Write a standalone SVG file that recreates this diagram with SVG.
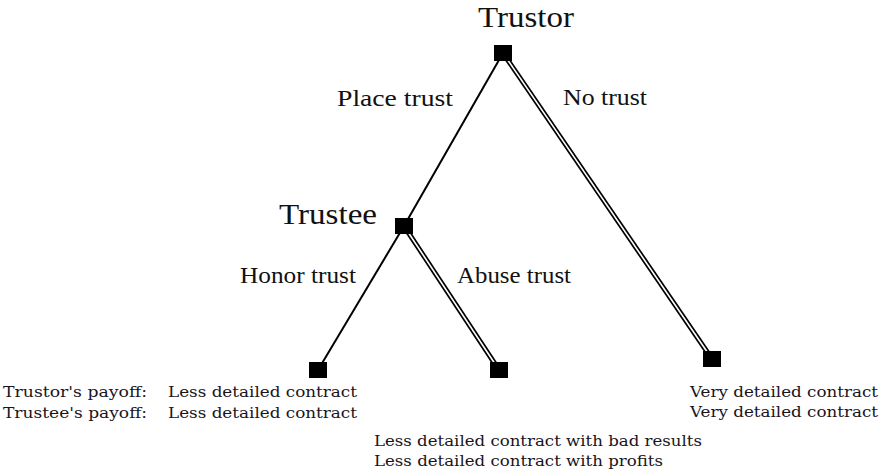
<svg xmlns="http://www.w3.org/2000/svg" width="881" height="472" viewBox="0 0 881 472">
<style>
.bg{fill:#fff}
.edge{stroke:#000;stroke-width:2;fill:none}
.dbl-out{stroke:#000;stroke-width:5;fill:none}
.dbl-in{stroke:#fff;stroke-width:1.6;fill:none}
.node{fill:#000}
.big{font-family:"Liberation Serif","Times New Roman",serif;font-size:30px;fill:#111}
.lbl{font-family:"Liberation Serif","Times New Roman",serif;font-size:23px;fill:#111}
.pay{font-family:"DejaVu Serif","Liberation Serif",serif;font-size:14.5px;fill:#1a1420}
</style>
<rect class="bg" x="0" y="0" width="881" height="472"/>
<g id="connectors">
  <line class="edge" x1="503" y1="53" x2="404" y2="226"/>
  <line class="edge" x1="404" y1="226" x2="318" y2="370"/>
  <line class="dbl-out" x1="503" y1="53" x2="712" y2="359"/>
  <line class="dbl-in" x1="503" y1="53" x2="712" y2="359"/>
  <line class="dbl-out" x1="404" y1="226" x2="499" y2="370"/>
  <line class="dbl-in" x1="404" y1="226" x2="499" y2="370"/>
  <text class="lbl" x="337" y="106" textLength="116" lengthAdjust="spacingAndGlyphs">Place trust</text>
  <text class="lbl" x="563" y="105" textLength="84" lengthAdjust="spacingAndGlyphs">No trust</text>
  <text class="lbl" x="240" y="283" textLength="116" lengthAdjust="spacingAndGlyphs">Honor trust</text>
  <text class="lbl" x="457" y="283" textLength="114" lengthAdjust="spacingAndGlyphs">Abuse trust</text>
</g>
<g id="trustor">
  <rect class="node" x="494" y="45" width="18" height="16"/>
  <text class="big" x="478" y="27" textLength="96" lengthAdjust="spacingAndGlyphs">Trustor</text>
</g>
<g id="trustee">
  <rect class="node" x="395" y="218" width="18" height="16"/>
  <text class="big" x="279" y="224" textLength="98" lengthAdjust="spacingAndGlyphs">Trustee</text>
</g>
<g id="outcome-honor">
  <rect class="node" x="309" y="362" width="18" height="16"/>
  <text class="pay" x="3" y="397" textLength="144" lengthAdjust="spacingAndGlyphs">Trustor's payoff:</text>
  <text class="pay" x="3" y="418" textLength="144" lengthAdjust="spacingAndGlyphs">Trustee's payoff:</text>
  <text class="pay" x="168" y="397" textLength="189" lengthAdjust="spacingAndGlyphs">Less detailed contract</text>
  <text class="pay" x="168" y="418" textLength="189" lengthAdjust="spacingAndGlyphs">Less detailed contract</text>
</g>
<g id="outcome-abuse">
  <rect class="node" x="490" y="362" width="18" height="16"/>
  <text class="pay" x="374" y="446" textLength="328" lengthAdjust="spacingAndGlyphs">Less detailed contract with bad results</text>
  <text class="pay" x="374" y="466" textLength="289" lengthAdjust="spacingAndGlyphs">Less detailed contract with profits</text>
</g>
<g id="outcome-notrust">
  <rect class="node" x="703" y="351" width="18" height="16"/>
  <text class="pay" x="690" y="397" textLength="188" lengthAdjust="spacingAndGlyphs">Very detailed contract</text>
  <text class="pay" x="690" y="417" textLength="188" lengthAdjust="spacingAndGlyphs">Very detailed contract</text>
</g>
</svg>
